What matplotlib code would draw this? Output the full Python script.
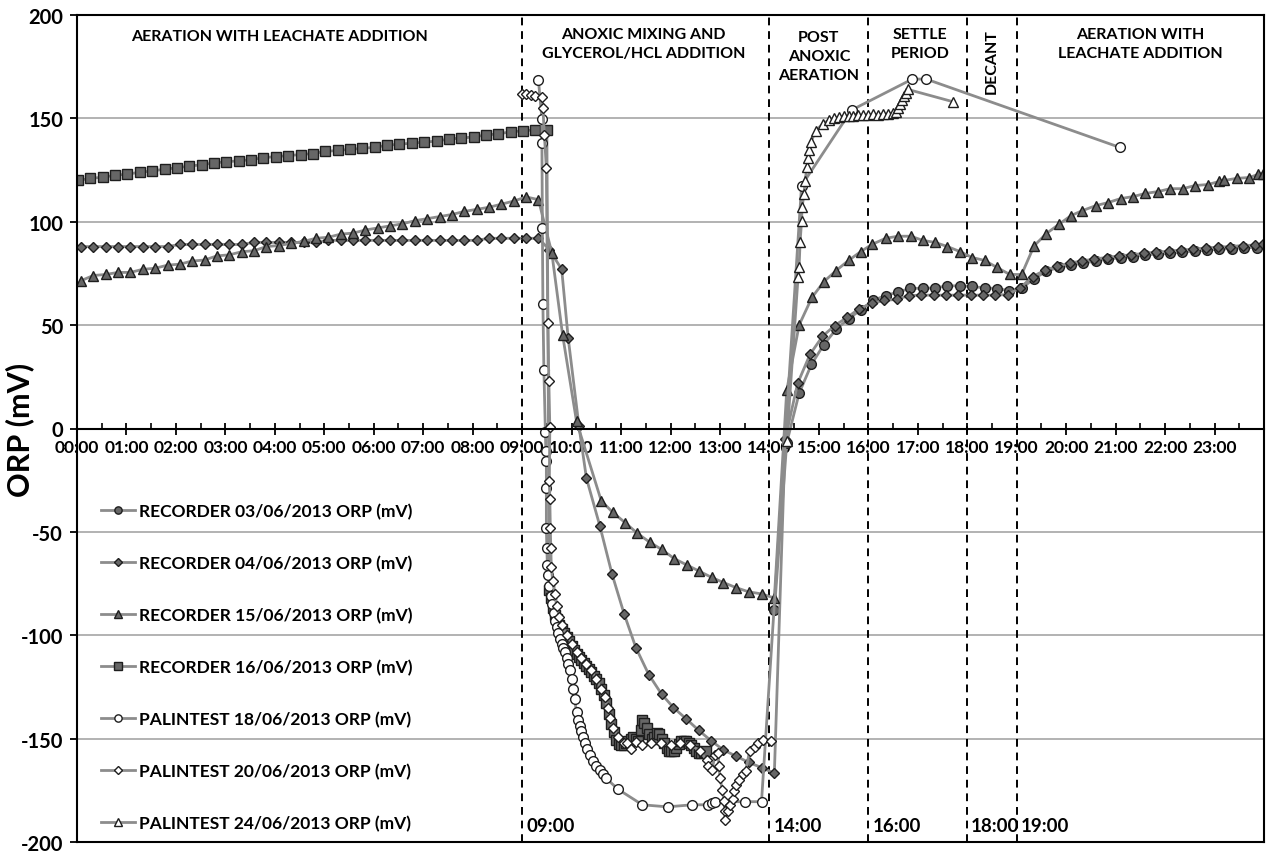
import numpy as np
import matplotlib.pyplot as plt

plt.rcParams['font.family'] = ['Lato', 'DejaVu Sans']
plt.rcParams['font.weight'] = 'bold'
plt.rcParams['axes.unicode_minus'] = False

# times are hours after 00:00, values are ORP in mV

# RECORDER 03/06/2013 (logged every 15 min from 14:06)
rec0306_t = np.arange(40) * 0.25 + 14.1
rec0306_v = [-88, -7, 17, 31, 40.6, 48, 53, 57.5, 62, 64.3, 66, 67.8, 67.8, 68,
             69, 69, 68.7, 68, 67.7, 66.7, 67.8, 72.5, 76, 78, 79, 80, 81, 82,
             82.5, 83, 84, 84.3, 84.7, 85.3, 85.7, 86.3, 86.7, 87, 87.5, 87.5]

# RECORDER 04/06/2013
rec0406_t = np.concatenate([
    np.arange(38) * 0.25 + 0.08,
    [9.55, 9.8, 9.93, 10.15, 10.3, 10.57, 10.82, 11.06, 11.3, 11.56, 11.82,
     12.06, 12.32, 12.57, 12.82, 13.07, 13.33, 13.58, 13.84, 14.1],
    np.arange(39) * 0.25 + 14.32,
    [23.97]])
rec0406_v = [88, 88, 88, 88, 88, 88, 88, 88, 89, 89, 89, 89, 89, 89, 90, 90,
             90, 90, 90, 90, 91, 91, 91, 91, 91, 91, 91, 91, 91, 91, 91, 91,
             91, 92, 92, 92, 92, 92,
             86.5, 77, 44, 1, -24, -47, -70.6, -89.5, -106, -119, -128.5, -135,
             -140.5, -146, -151, -155.5, -158.5, -161.5, -164, -166.7,
             -5, 21.8, 35.8, 44.5, 49.8, 53.7, 58, 60.5, 62, 62.4, 64.3, 64.5,
             64.5, 64.5, 64.5, 64.5, 64.5, 64.5, 64.8, 68, 73.5, 76.5, 78.5, 80,
             81, 82, 82.7, 83.5, 84, 84.7, 85.3, 85.7, 86.3, 86.7, 87.3, 87.7,
             88, 88.5, 88.7, 89]

# RECORDER 15/06/2013
rec1506_t = np.concatenate([
    np.arange(38) * 0.25 + 0.08,
    [9.6, 9.82, 10.1, 10.6, 10.83, 11.08, 11.33, 11.58, 11.82, 12.08, 12.33,
     12.58, 12.83, 13.07, 13.33, 13.58, 13.84, 14.1,
     14.35, 14.6, 14.86, 15.1, 15.35, 15.6, 15.85, 16.07, 16.35, 16.6, 16.86,
     17.1, 17.35, 17.6, 17.85, 18.1, 18.35, 18.6, 18.86, 19.1, 19.35, 19.6,
     19.85, 20.1, 20.33, 20.6, 20.85, 21.1, 21.36, 21.6, 21.86, 22.1, 22.36,
     22.6, 22.86, 23.1, 23.2, 23.45, 23.7, 23.88, 23.98]])
rec1506_v = [71.5, 74, 74.5, 75.5, 75.5, 77, 77.5, 79, 79.5, 81, 81.5, 83.5,
             84, 85.5, 86, 88, 88.5, 89.5, 90.5, 92, 92.5, 94, 94.5, 96, 97, 98,
             99, 100.5, 101.5, 102.5, 103.5, 105, 106, 107, 108.5, 110, 112,
             110.7,
             85, 45, 3.4, -35, -40.5, -45.5, -50.7, -55, -58.5, -63, -66, -69,
             -72, -74.5, -77, -79, -80, -82,
             18.4, 50, 63.4, 71, 76.4, 81.3, 85.6, 89, 92, 93, 93, 91, 90, 88,
             85.6, 82.7, 81.3, 77.9, 74.5, 74.5, 88.3, 94.3, 98.7, 103, 105.4,
             107.8, 109.3, 111.2, 112.2, 113.7, 114.6, 116, 116, 117.5, 118,
             119.5, 120, 121, 121.4, 122.9, 123.3]

# RECORDER 16/06/2013
rec1606_t = np.concatenate([
    np.arange(38) * 0.25 + 0.02,
    [9.5, 9.55, 9.58, 9.62, 9.66, 9.7, 9.75, 9.8, 9.85, 9.9, 9.95, 10.0,
     10.05, 10.1, 10.15, 10.2, 10.25, 10.3, 10.35, 10.4, 10.45, 10.5, 10.55,
     10.6, 10.65, 10.7, 10.75, 10.8, 10.85, 10.9, 10.95, 11.0, 11.05, 11.1,
     11.15, 11.2, 11.25, 11.3, 11.35, 11.4, 11.43, 11.47, 11.52, 11.57, 11.62,
     11.67, 11.72, 11.77, 11.82, 11.87, 11.92, 11.97, 12.02, 12.07, 12.12,
     12.17, 12.22, 12.27, 12.32, 12.37, 12.42, 12.47, 12.52, 12.57, 12.62,
     12.67, 12.72]])
rec1606_v = [120, 121, 121.5, 122.5, 123, 124, 124.5, 125.5, 126, 127, 127.5,
             128.5, 129, 129.5, 130, 131, 131.5, 132, 132.5, 133, 134, 134.5,
             135, 135.5, 136, 137, 137.5, 138, 138.5, 139, 140, 140.5, 141, 142,
             142.5, 143.5, 144, 144.5,
             144.6, -78, -82, -87, -90, -92, -95, -97, -99, -101, -103, -105,
             -107, -109, -110.5, -112, -113.5, -115, -116.5, -118, -119.5, -121,
             -123, -126, -129, -133, -138, -143, -147, -150.5, -152.5, -153,
             -153, -152, -151, -150, -149, -150, -151, -146, -141, -142.5, -145,
             -148, -150, -149, -147.5, -148, -150, -152, -154.5, -156, -156,
             -156, -154.5, -152.5, -151, -151, -151, -152, -153, -154.5, -156,
             -157, -157, -156.5, -156]

# PALINTEST 18/06/2013
pal1806_t = [9.33, 9.4, 9.4, 9.41, 9.42, 9.44, 9.47, 9.48, 9.49, 9.49, 9.49,
             9.5, 9.51, 9.53, 9.55, 9.58, 9.61, 9.64, 9.67, 9.7, 9.73, 9.76,
             9.8, 9.83, 9.87, 9.9, 9.93, 9.96, 10.0, 10.03, 10.06, 10.1, 10.13,
             10.17, 10.2, 10.24, 10.28, 10.32, 10.37, 10.43, 10.5, 10.57, 10.63,
             10.69, 10.94, 11.43, 11.94, 12.44, 12.75, 12.83, 12.9, 13.5, 13.84,
             14.65, 15.66, 16.89, 17.17, 21.08]
pal1806_v = [168.5, 149.5, 138, 97, 60, 28.5, -1.5, -11, -15.5, -29, -48, -58,
             -66, -71, -76, -81, -85, -89, -93, -96, -99, -102, -104, -106, -108,
             -111, -114, -117, -121, -126, -131, -137, -141, -144, -146.5, -149,
             -152, -155, -158, -161, -163, -165, -167, -169, -174.5, -182, -183,
             -182, -182, -181, -180.5, -180.5, -180.5,
             117.5, 154, 169, 169, 136]

# PALINTEST 20/06/2013
pal2006_t = [9.0, 9.07, 9.17, 9.27, 9.4, 9.42, 9.45, 9.49, 9.52, 9.54, 9.56,
             9.55, 9.56, 9.57, 9.58, 9.59, 9.62, 9.66, 9.7, 9.75, 9.8, 9.9,
             10.0, 10.1, 10.2, 10.3, 10.4, 10.5, 10.6, 10.67, 10.73, 10.77,
             10.84, 10.94, 11.05, 11.12, 11.2, 11.3, 11.43, 11.6, 11.8, 12.0,
             12.2, 12.4, 12.6, 12.73, 12.76, 12.84, 12.9, 12.96, 12.98, 13.0,
             13.05, 13.08, 13.1, 13.1, 13.16, 13.2, 13.26, 13.29, 13.33, 13.38,
             13.46, 13.52, 13.6, 13.7, 13.77, 13.87, 14.03]
pal2006_v = [162, 162, 161.5, 161, 160.5, 155, 142, 126, 51, 23, 0.5, -25.6,
             -34, -48, -58, -67, -74, -80, -86, -91, -95, -100, -104, -108,
             -111, -114, -117, -121, -126, -130, -135, -140, -145, -149, -152,
             -152, -155, -151.5, -153, -152, -152, -153, -152, -153, -156,
             -160.5, -163, -165, -158, -157, -163, -169, -175, -180, -185,
             -189.6, -185, -182, -179, -175.5, -172.6, -170, -167, -165.5,
             -156, -154, -152, -150.5, -151]

# PALINTEST 24/06/2013
pal2406_t = [14.35, 14.58, 14.6, 14.62, 14.65, 14.66, 14.7, 14.72, 14.76,
             14.78, 14.8, 14.84, 14.94, 15.08, 15.2, 15.3, 15.4, 15.5, 15.6,
             15.7, 15.8, 15.9, 16.0, 16.1, 16.2, 16.3, 16.4, 16.5, 16.55, 16.6,
             16.64, 16.68, 16.72, 16.76, 16.8, 17.72]
pal2406_v = [-6, 73.5, 78, 90, 100.5, 107, 113.5, 119.5, 126.7, 130.6, 134.5,
             138.8, 144, 147.5, 149, 150, 150.5, 151, 151, 151, 151.5, 151.5,
             151.5, 152, 151.5, 152, 152, 152.5, 153, 155, 157, 159, 161, 162.5,
             164, 158]

phase_lines = [9, 14, 16, 18, 19]
phase_names = ['09:00', '14:00', '16:00', '18:00', '19:00']

line_col = '#8c8c8c'
edge_col = '#1e1e1e'
dark = '#666666'

fig = plt.figure(figsize=(12.66, 8.54), dpi=100)
ax = fig.add_axes([77 / 1266, 1 - 843 / 854, 1187 / 1266, 827 / 854])

ax.set_xlim(0, 24)
ax.set_ylim(-200, 200)
ax.set_yticks(np.arange(-200, 201, 50))
ax.yaxis.grid(True, color='#a6a6a6', lw=1.2)
ax.set_axisbelow(True)

series = [
    (rec0306_t, rec0306_v, 'o', dark, 7, 'RECORDER 03/06/2013 ORP (mV)'),
    (rec0406_t, rec0406_v, 'D', dark, 5, 'RECORDER 04/06/2013 ORP (mV)'),
    (rec1506_t, rec1506_v, '^', dark, 7.5, 'RECORDER 15/06/2013 ORP (mV)'),
    (rec1606_t, rec1606_v, 's', dark, 7, 'RECORDER 16/06/2013 ORP (mV)'),
    (pal1806_t, pal1806_v, 'o', 'white', 7, 'PALINTEST 18/06/2013 ORP (mV)'),
    (pal2006_t, pal2006_v, 'D', 'white', 5, 'PALINTEST 20/06/2013 ORP (mV)'),
    (pal2406_t, pal2406_v, '^', 'white', 7.5, 'PALINTEST 24/06/2013 ORP (mV)'),
]
for t, v, m, fc, ms, lab in series:
    ax.plot(t, v, color=line_col, lw=2, marker=m, ms=ms, mfc=fc,
            mec=edge_col, mew=1, label=lab)

for x, name in zip(phase_lines, phase_names):
    ax.axvline(x, color='black', lw=1.4, ls=(0, (4, 3)), zorder=1)
    ax.text(x + 0.08, -192, name, fontsize=13.5, fontweight='bold',
            ha='left', va='center')

txt = dict(fontsize=11.5, fontweight='bold', ha='center', va='center',
           linespacing=1.45)
ax.text(4.1, 190, 'AERATION WITH LEACHATE ADDITION', **txt)
ax.text(11.45, 186, 'ANOXIC MIXING AND\nGLYCEROL/HCL ADDITION', **txt)
ax.text(15.0, 180, 'POST\nANOXIC\nAERATION', **txt)
ax.text(17.05, 186, 'SETTLE\nPERIOD', **txt)
ax.text(18.5, 178, 'DECANT', rotation=90, **txt)
ax.text(21.5, 186, 'AERATION WITH\nLEACHATE ADDITION', **txt)

# x axis sits on the zero line, frame closed at -200
ax.spines['bottom'].set_position(('data', 0))
for s in ax.spines.values():
    s.set_linewidth(1.5)
ax.plot([0, 24], [-200, -200], color='black', lw=1.5, clip_on=False,
        zorder=6)

ax.set_xticks(range(25))
ax.set_xticklabels([f'{h:02d}:00' for h in range(24)] + [''])
ax.set_xticks(np.arange(0.5, 24, 1), minor=True)
ax.tick_params(axis='x', which='major', direction='inout', length=9,
               width=1.3, labelsize=12.5, pad=3)
ax.tick_params(axis='x', which='minor', direction='in', length=4, width=1.2)
ax.tick_params(axis='y', which='major', direction='out', length=5,
               width=1.3, labelsize=14.5, pad=5)
for lb in ax.get_xticklabels() + ax.get_yticklabels():
    lb.set_fontweight('bold')

fig.text(20 / 1266, 0.497, 'ORP (mV)', fontsize=22, fontweight='bold',
         rotation=90, ha='center', va='center')

ax.legend(loc='upper left', bbox_to_anchor=(0.014, 0.418), frameon=False,
          fontsize=12.5, labelspacing=2.05, handlelength=2.0,
          handletextpad=0.2, markerscale=0.75, borderaxespad=0)

plt.savefig('out.png', dpi=100)
